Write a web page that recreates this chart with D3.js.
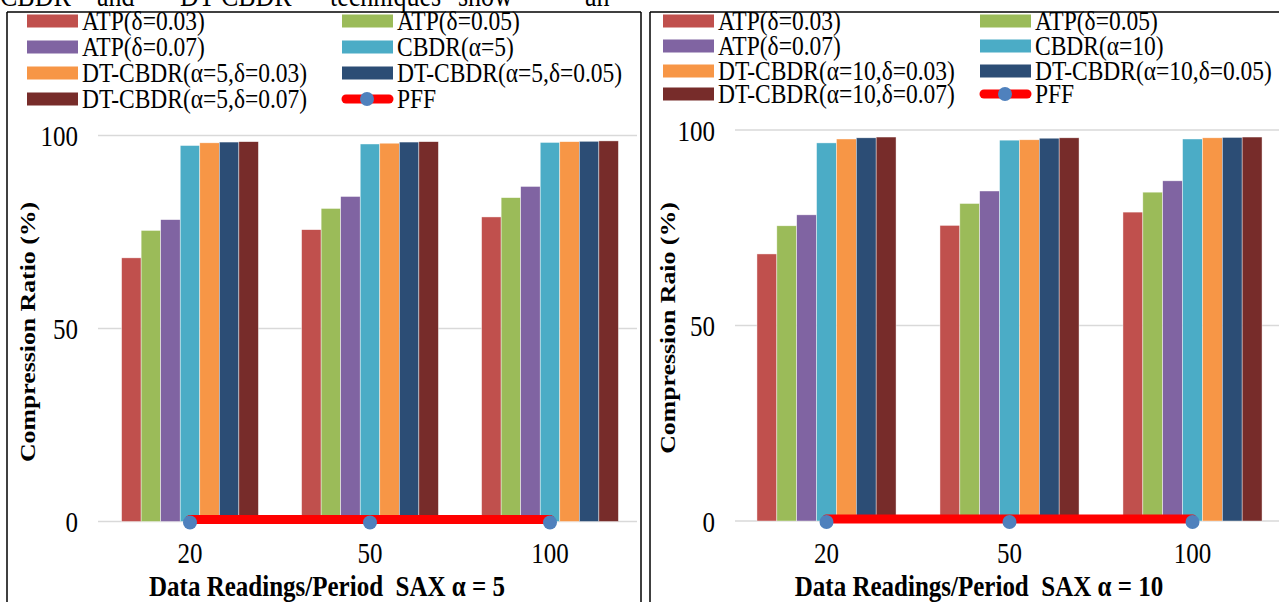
<!DOCTYPE html>
<html><head><meta charset="utf-8">
<script src="https://cdn.jsdelivr.net/npm/d3@7"></script>
<style>
body{margin:0;background:#fff;}
svg{display:block;font-family:"Liberation Serif","Times New Roman",serif;}
text{font-family:"Liberation Serif","Times New Roman",serif;white-space:pre;}
</style></head>
<body><svg id="c" width="1279" height="602"></svg>
<script>
const categories = ["20","50","100"];
const yTicks = [0,50,100];
const seriesNamesLeft = ["ATP(δ=0.03)","ATP(δ=0.05)","ATP(δ=0.07)","CBDR(α=5)","DT-CBDR(α=5,δ=0.03)","DT-CBDR(α=5,δ=0.05)","DT-CBDR(α=5,δ=0.07)","PFF"];
const seriesNamesRight = ["ATP(δ=0.03)","ATP(δ=0.05)","ATP(δ=0.07)","CBDR(α=10)","DT-CBDR(α=10,δ=0.03)","DT-CBDR(α=10,δ=0.05)","DT-CBDR(α=10,δ=0.07)","PFF"];
const colors = ["#C0504D","#9BBB59","#8064A2","#4BACC6","#F79646","#2C4D75","#772C2A"];
const pffLine = "#FF0000", pffMarker = "#4F81BD";
// values per series, per category (20, 50, 100)
const leftValues = [
  [68.3, 75.6, 78.9],
  [75.4, 81.1, 83.9],
  [78.2, 84.2, 86.8],
  [97.4, 97.8, 98.2],
  [98.1, 98.0, 98.4],
  [98.3, 98.3, 98.5],
  [98.4, 98.4, 98.6]
];
const rightValues = [
  [68.3, 75.6, 79.0],
  [75.5, 81.2, 84.1],
  [78.3, 84.4, 87.0],
  [96.7, 97.4, 97.7],
  [97.7, 97.5, 98.0],
  [98.0, 97.9, 98.1],
  [98.2, 98.0, 98.2]
];
const pffValues = [0, 0, 0];
const yTitles = ["Compression Ratio (%)", "Compression Raio (%)"];
const xTitles = ["Data Readings/Period  SAX α = 5", "Data Readings/Period  SAX α = 10"];
const topWords = ["CBDR","and","DT-CBDR","techniques","show","an"];

const SY = 1.2; // vertical stretch of the reference text
const svg = d3.select("#c");

function stxt(g, x, y, str, size, opts={}){
  const t = g.append("text")
    .attr("transform",`translate(${x},${y}) scale(1,${SY})`)
    .attr("font-size",size).attr("fill","#000").text(str);
  if (opts.anchor) t.attr("text-anchor",opts.anchor);
  if (opts.bold) t.attr("font-weight","bold");
  if (opts.dy) t.attr("dy",opts.dy);
  return t;
}

// top cut-off paragraph text
const topX = [0, 97, 180, 330, 458, 585];
const tg = svg.append("g");
topWords.forEach((w,i)=>stxt(tg, topX[i], 6, w, 26));

function panel(cfg){
  const g = svg.append("g");
  const y = d3.scaleLinear().domain([0,100]).range([cfg.y0, cfg.y100]);
  const x = d3.scaleBand().domain(categories).range(cfg.xr).paddingInner(0.24).paddingOuter(0.12);
  const xs = d3.scaleBand().domain(d3.range(cfg.values.length)).range([0, x.bandwidth()]);

  // frame
  g.append("line").attr("x1",cfg.frameL).attr("x2",cfg.frameL).attr("y1",cfg.frameT).attr("y2",602).attr("stroke","#000").attr("stroke-width",1.5);
  g.append("line").attr("x1",cfg.frameL).attr("x2",cfg.frameR).attr("y1",cfg.frameT).attr("y2",cfg.frameT).attr("stroke","#000").attr("stroke-width",1.5);
  if (cfg.frameRLine) g.append("line").attr("x1",cfg.frameR).attr("x2",cfg.frameR).attr("y1",cfg.frameT).attr("y2",602).attr("stroke","#000").attr("stroke-width",1.5);

  // gridlines
  g.append("g").selectAll("line").data(yTicks).join("line")
    .attr("x1",cfg.gx[0]).attr("x2",cfg.gx[1]).attr("y1",d=>y(d)).attr("y2",d=>y(d))
    .attr("stroke","#D9D9D9").attr("stroke-width",1.5);

  // bars
  cfg.values.forEach((vals,si)=>{
    g.append("g").selectAll("rect").data(vals).join("rect")
      .attr("x",(d,i)=>x(categories[i])+xs(si))
      .attr("width",xs.bandwidth())
      .attr("y",d=>y(d)).attr("height",d=>y(0)-y(d))
      .attr("fill",colors[si]).attr("stroke","#fff").attr("stroke-width",0.6).attr("stroke-opacity",0.7);
  });

  // PFF line + markers
  const line = d3.line().x((d,i)=>x(categories[i])+x.bandwidth()/2).y(d=>y(d)-2);
  g.append("path").datum(pffValues).attr("d",line).attr("fill","none")
    .attr("stroke",pffLine).attr("stroke-width",9).attr("stroke-linecap","round");
  g.append("g").selectAll("circle").data(pffValues).join("circle")
    .attr("cx",(d,i)=>x(categories[i])+x.bandwidth()/2).attr("cy",d=>y(d)+1).attr("r",7)
    .attr("fill",pffMarker);

  // y axis labels
  const ya = g.append("g").attr("transform",`translate(${cfg.yLabelX},0)`)
    .call(d3.axisLeft(y).tickValues(yTicks).tickSize(0).tickPadding(0).tickFormat(d3.format("d")));
  ya.select(".domain").remove();
  ya.attr("font-family",null).attr("font-size",null);
  ya.selectAll("text").attr("font-size",25).attr("fill","#000").attr("x",0).attr("dy","0.34em")
    .attr("transform",`scale(1,${SY})`);

  // x axis labels
  const xa = g.append("g").attr("transform",`translate(0,${y(0)})`)
    .call(d3.axisBottom(x).tickSize(0));
  xa.select(".domain").remove();
  xa.attr("font-family",null).attr("font-size",null);
  xa.selectAll("text").attr("font-size",25).attr("fill","#000").attr("y",35).attr("dy",0)
    .attr("transform",`scale(1,${SY})`);

  // titles
  g.append("text").attr("transform",`translate(${cfg.yTitleX},${cfg.yTitleY}) rotate(-90) scale(${SY},1)`)
    .attr("text-anchor","middle").attr("dy","0.35em").attr("font-size",21.5).attr("font-weight","bold").text(cfg.yTitle);
  stxt(g, cfg.xTitleX, 596, cfg.xTitle, 25, {anchor:"middle", bold:true});

  // legend
  const lg = g.append("g");
  cfg.names.forEach((nm,i)=>{
    const col = i%2, row = Math.floor(i/2);
    const lx = cfg.legX[col], ly = cfg.legY[row];
    if (i < 7) {
      lg.append("rect").attr("x",lx).attr("y",ly-6.5).attr("width",51).attr("height",13).attr("fill",colors[i]);
    } else {
      lg.append("line").attr("x1",lx+4).attr("x2",lx+47).attr("y1",ly).attr("y2",ly)
        .attr("stroke",pffLine).attr("stroke-width",9).attr("stroke-linecap","round");
      lg.append("circle").attr("cx",lx+25).attr("cy",ly).attr("r",7).attr("fill",pffMarker);
    }
    stxt(lg, lx+55, ly, nm, 23.5, {dy:"0.33em"});
  });
}

panel({values:leftValues, names:seriesNamesLeft, y0:521.5, y100:135.5, xr:[100,640], gx:[98,637],
  frameL:7, frameT:12, frameR:641, frameRLine:true, yLabelX:78, yTitleX:27, yTitleY:332,
  yTitle:yTitles[0], xTitle:xTitles[0], xTitleX:327, legX:[27,342], legY:[21,47,73,99]});
panel({values:rightValues, names:seriesNamesRight, y0:521, y100:130, xr:[735,1284], gx:[735,1279],
  frameL:650, frameT:12, frameR:1279, frameRLine:false, yLabelX:715, yTitleX:667, yTitleY:328,
  yTitle:yTitles[1], xTitle:xTitles[1], xTitleX:979, legX:[663,980], legY:[21,46,71,94]});
</script></body></html>
